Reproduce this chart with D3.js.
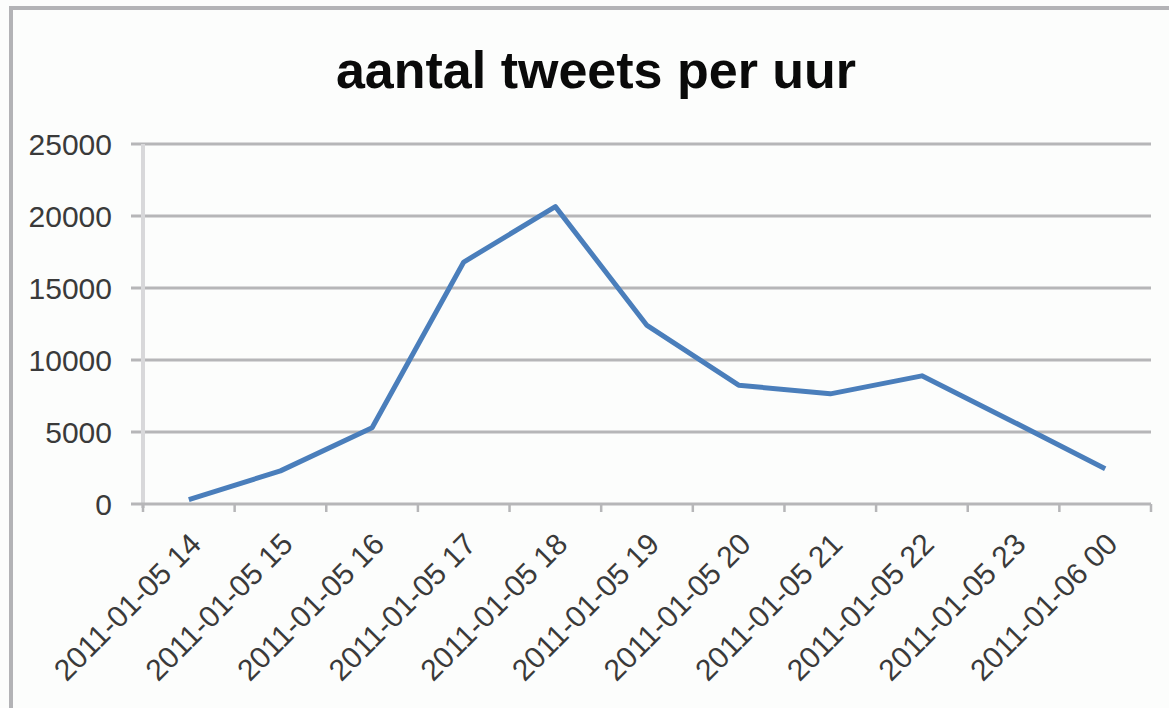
<!DOCTYPE html>
<html>
<head>
<meta charset="utf-8">
<script src="https://cdn.jsdelivr.net/npm/d3@7"></script>
<style>
  html, body { margin: 0; padding: 0; background: #fcfdfc; }
  svg { display: block; }
</style>
</head>
<body>
<script>
const title = "aantal tweets per uur";
const categories = ["2011-01-05 14", "2011-01-05 15", "2011-01-05 16", "2011-01-05 17",
  "2011-01-05 18", "2011-01-05 19", "2011-01-05 20", "2011-01-05 21",
  "2011-01-05 22", "2011-01-05 23", "2011-01-06 00"];
const tweets = [300, 2300, 5300, 16800, 20650, 12400, 8250, 7650, 8900, 5700, 2450];
const yTicks = [0, 5000, 10000, 15000, 20000, 25000];

const W = 1169, H = 708;
const plot = { left: 143, right: 1151, top: 144, bottom: 504 };

const svg = d3.select("body").append("svg").attr("width", W).attr("height", H);

svg.append("rect").attr("width", W).attr("height", H).attr("fill", "#fcfdfc");
// outer chart border (top & left visible)
svg.append("rect").attr("x", 11).attr("y", 8).attr("width", W + 20).attr("height", H + 20)
  .attr("fill", "none").attr("stroke", "#b3b3b6").attr("stroke-width", 4);

const x = d3.scaleBand().domain(categories).range([plot.left, plot.right]).paddingInner(0).paddingOuter(0);
const y = d3.scaleLinear().domain([0, 25000]).range([plot.bottom, plot.top]);

// gridlines
const grid = svg.append("g");
grid.selectAll("line").data(yTicks.filter(d => d > 0)).join("line")
  .attr("x1", plot.left - 12).attr("x2", plot.right)
  .attr("y1", d => y(d)).attr("y2", d => y(d))
  .attr("stroke", "#b6b6b8").attr("stroke-width", 3);

// y axis line
svg.append("line").attr("x1", plot.left).attr("x2", plot.left)
  .attr("y1", plot.top).attr("y2", plot.bottom + 4)
  .attr("stroke", "#d8d8da").attr("stroke-width", 4);

// y axis labels
const yAxis = d3.axisLeft(y).tickValues(yTicks).tickSize(0).tickPadding(0).tickFormat(d3.format("d"));
const gy = svg.append("g").attr("transform", `translate(${plot.left - 31},0)`).call(yAxis);
gy.select(".domain").remove();
gy.selectAll("text").attr("font-family", "'Liberation Sans', Arial, sans-serif")
  .attr("font-size", 30).attr("fill", "#3a3a3a").attr("dy", "0.36em");

// x axis
const xEdges = categories.map(c => x(c)).concat([plot.right]);
svg.append("line").attr("x1", plot.left - 12).attr("x2", plot.right)
  .attr("y1", plot.bottom).attr("y2", plot.bottom)
  .attr("stroke", "#b6b6b8").attr("stroke-width", 3);
svg.append("g").selectAll("line").data(xEdges).join("line")
  .attr("x1", d => d).attr("x2", d => d)
  .attr("y1", plot.bottom).attr("y2", plot.bottom + 8)
  .attr("stroke", "#b6b6b8").attr("stroke-width", 2.5);

const xAxis = d3.axisBottom(x).tickSize(0).tickPadding(0);
const gx = svg.append("g").attr("transform", `translate(0,${plot.bottom})`).call(xAxis);
gx.select(".domain").remove();
gx.selectAll(".tick text")
  .attr("font-family", "'Liberation Sans', Arial, sans-serif")
  .attr("font-size", 30).attr("fill", "#3a3a3a")
  .attr("text-anchor", "end")
  .attr("dy", 0).attr("y", 0)
  .attr("transform", "translate(14,42) rotate(-45)");

// line
const line = d3.line().x((d, i) => x(categories[i]) + x.bandwidth() / 2).y(d => y(d));
svg.append("path").datum(tweets).attr("d", line)
  .attr("fill", "none").attr("stroke", "#4a7ebb").attr("stroke-width", 5)
  .attr("stroke-linejoin", "round").attr("stroke-linecap", "butt");

// title
svg.append("text").attr("x", 596).attr("y", 88).attr("text-anchor", "middle")
  .attr("font-family", "'Liberation Sans', Arial, sans-serif")
  .attr("font-weight", "bold").attr("font-size", 52).attr("fill", "#0a0a0a")
  .text(title);
</script>
</body>
</html>
